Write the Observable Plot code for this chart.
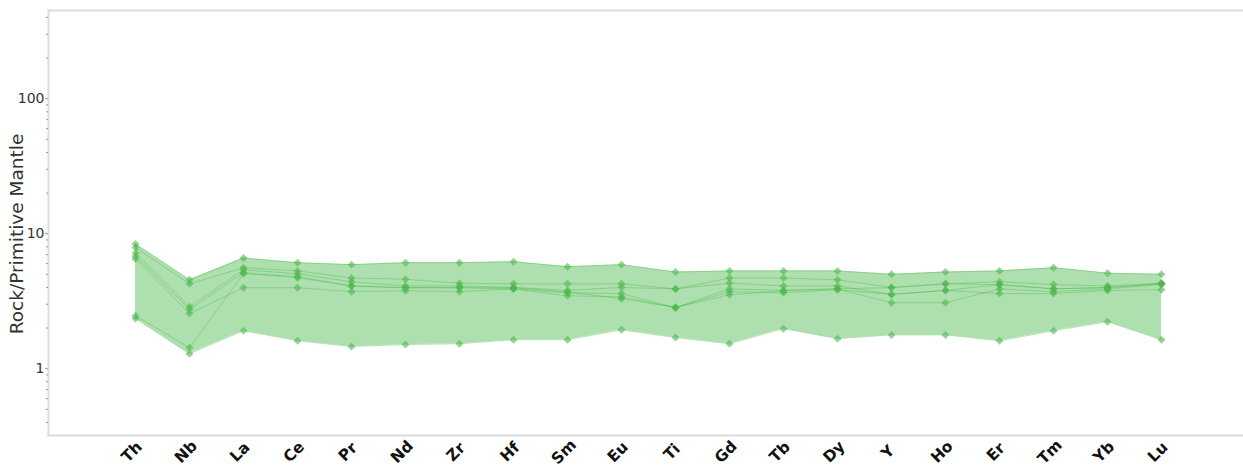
<!DOCTYPE html>
<html>
<head>
<meta charset="utf-8">
<script src="https://cdn.jsdelivr.net/npm/d3@7"></script>
<script src="https://cdn.jsdelivr.net/npm/@observablehq/plot@0.6"></script>
<style>
  html, body { margin: 0; padding: 0; background: #fff; }
  #chart svg { display: block; }
</style>
</head>
<body>
<div id="chart"></div>
<script>
// Primitive-mantle normalised trace elements (spider diagram)
const elements = ["Th","Nb","La","Ce","Pr","Nd","Zr","Hf","Sm","Eu","Ti","Gd","Tb","Dy","Y","Ho","Er","Tm","Yb","Lu"];

const sampleA = [8.4, 4.55, 6.6, 6.1, 5.9, 6.1, 6.1, 6.2, 5.7, 5.9, 5.2, 5.3, 5.3, 5.3, 5.0, 5.2, 5.3, 5.6, 5.1, 5.0];
const sampleB = [7.9, 4.25, 5.6, 5.3, 4.7, 4.6, 4.3, 4.25, 4.25, 4.25, 3.9, 4.7, 4.7, 4.55, 4.0, 4.25, 4.4, 4.2, 4.1, 4.3];
const sampleC = [7.2, 2.88, 5.4, 5.05, 4.4, 4.1, 4.1, 4.0, 3.8, 4.0, 3.9, 4.3, 4.1, 4.1, 3.55, 3.8, 4.2, 3.9, 4.0, 4.25];
const sampleD = [6.8, 2.75, 5.15, 4.72, 4.1, 3.98, 3.98, 3.9, 3.65, 3.6, 2.83, 3.9, 3.8, 3.9, 3.08, 3.08, 3.9, 3.72, 3.9, 4.2];
const sampleE = [6.5, 2.56, 3.98, 3.98, 3.72, 3.78, 3.72, 3.9, 3.47, 3.4, 2.83, 3.72, 3.65, 3.85, 3.55, 3.8, 3.6, 3.6, 3.8, 3.85];
const sampleF = [2.47, 1.43, 5.06, 4.8, 4.1, 3.98, 3.98, 3.98, 3.7, 3.3, 2.85, 3.53, 3.78, 3.91, 3.98, 4.26, 4.19, 3.91, 3.98, 4.3];
const sampleG = [2.35, 1.29, 1.91, 1.61, 1.46, 1.51, 1.53, 1.64, 1.64, 1.94, 1.70, 1.53, 1.98, 1.67, 1.78, 1.78, 1.61, 1.91, 2.23, 1.64];

const samples = [sampleA, sampleB, sampleC, sampleD, sampleE, sampleF, sampleG];

// long table: one row per sample × element
const rows = samples.flatMap((vals, s) =>
  vals.map((v, i) => ({sample: s, element: elements[i], value: v}))
);

// min–max envelope per element
const envelope = elements.map((el, i) => ({
  element: el,
  lo: d3.min(samples, s => s[i]),
  hi: d3.max(samples, s => s[i])
}));

const majorTicks = [1, 10, 100];
const minorTicks = [0.4, 0.5, 0.6, 0.7, 0.8, 0.9,
  2, 3, 4, 5, 6, 7, 8, 9, 20, 30, 40, 50, 60, 70, 80, 90, 200, 300, 400];

const green = "#4cb84c";
const font = "DejaVu Sans, Verdana, sans-serif";
const border = {stroke: "#dcdcdc", strokeWidth: 2};

const chart = Plot.plot({
  width: 1243,
  height: 470,
  marginTop: 10,
  marginBottom: 35,
  marginLeft: 48,
  marginRight: 0,
  style: {fontFamily: font, background: "#fff"},
  x: {type: "point", domain: elements, range: [129, 1166], padding: 0, axis: null},
  y: {type: "log", domain: [0.32, 450], axis: null},
  marks: [
    Plot.frame({anchor: "top", ...border}),
    Plot.frame({anchor: "left", ...border}),
    Plot.frame({anchor: "bottom", ...border}),
    Plot.areaY(envelope, {x: "element", y1: "lo", y2: "hi", fill: green, fillOpacity: 0.45, curve: "linear"}),
    Plot.lineY(rows, {x: "element", y: "value", z: "sample", stroke: green, strokeOpacity: 0.4, strokeWidth: 1}),
    Plot.dot(rows, {x: "element", y: "value", symbol: "diamond2", r: 3.6, fill: green, fillOpacity: 0.6, stroke: "none"}),
    Plot.axisY(minorTicks, {tickSize: 2, stroke: "#999", text: null, label: null}),
    Plot.axisY(majorTicks, {
      tickSize: 3, stroke: "#999", tickPadding: 1, fontSize: 14, fill: "#333",
      tickFormat: d => String(d), label: null
    }),
    Plot.text(["Rock/Primitive Mantle"], {
      frameAnchor: "left", dx: -31, dy: 11, rotate: -90,
      fontSize: 18.5, fill: "#333", textAnchor: "middle", lineAnchor: "middle"
    }),
    Plot.text(elements, {
      x: d => d, frameAnchor: "bottom", dy: 20, rotate: -45,
      fontWeight: "bold", fontSize: 15.5, fill: "#111", textAnchor: "middle"
    })
  ]
});

document.getElementById("chart").append(chart);
</script>
</body>
</html>
